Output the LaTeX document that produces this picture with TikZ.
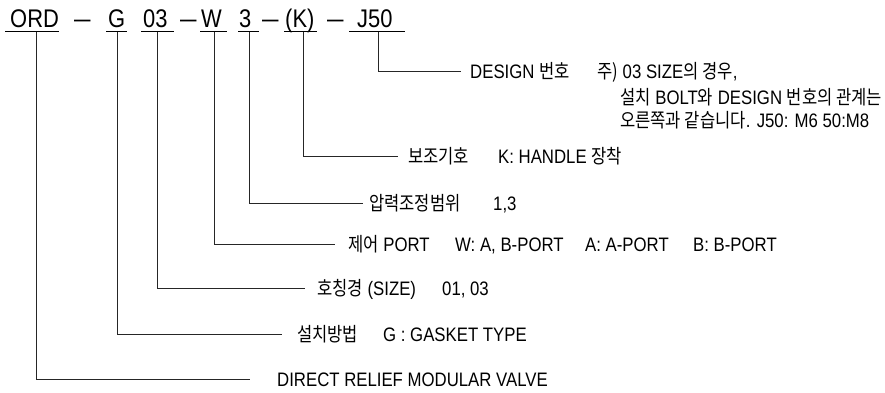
\documentclass[tikz,border=0pt]{standalone}
\usepackage{fontspec}
\setmainfont[FakeStretch=0.86]{Liberation Sans}
\newfontfamily\ko[FakeStretch=0.85]{Noto Sans CJK KR}
\begin{document}
\begin{tikzpicture}[x=1pt,y=-1pt,
  lbl/.style={anchor=base west, inner sep=0pt, font=\fontsize{19.5}{22}\selectfont},
  hd/.style={anchor=base west, inner sep=0pt, font=\fontsize{25.5}{28}\selectfont},
  ln/.style={line width=0.9pt, draw=black!85},
  ul/.style={line width=1pt, draw=black}]
\useasboundingbox (0,0) rectangle (885,392);
% header
\node[hd] (ord) at (10,27.5) {ORD};
\node[hd] (d1) at (74,27.5) {\scalebox{0.75}[1]{—}};
\node[hd] (g) at (108,27.5) {G};
\node[hd] (s03) at (143,27.5) {03};
\node[hd] (d2) at (180,27.5) {\scalebox{0.75}[1]{—}};
\node[hd] (w) at (201,27.5) {W};
\node[hd] (three) at (239,27.5) {3};
\node[hd] (d3) at (262,27.5) {\scalebox{0.75}[1]{—}};
\node[hd] (k) at (285,27.5) {(K)};
\node[hd] (d4) at (327,27.5) {\scalebox{0.75}[1]{—}};
\node[hd] (j50) at (357,27.5) {J50};
% underlines
\draw[ul] (5,31.5) -- (59,31.5);
\draw[ul] (106,31.5) -- (127,31.5);
\draw[ul] (141,31.5) -- (174,31.5);
\draw[ul] (200,31.5) -- (227,31.5);
\draw[ul] (238,31.5) -- (259,31.5);
\draw[ul] (284,31.5) -- (317,31.5);
\draw[ul] (349,31.5) -- (405,31.5);
% anchor points on underlines
\coordinate (uord) at (36,31.5);
\coordinate (ug) at (117,31.5);
\coordinate (u03) at (157,31.5);
\coordinate (uw) at (214,31.5);
\coordinate (u3) at (249,31.5);
\coordinate (uk) at (303,31.5);
\coordinate (uj) at (378,31.5);
% line ends
\coordinate (ej) at (461,71);
\coordinate (ek) at (398,156);
\coordinate (e3) at (363,203);
\coordinate (ew) at (335,244);
\coordinate (e03) at (305,288);
\coordinate (eg) at (282,334);
\coordinate (eord) at (250,379);
% connectors
\draw[ln] (uj) |- (ej);
\draw[ln] (uk) |- (ek);
\draw[ln] (u3) |- (e3);
\draw[ln] (uw) |- (ew);
\draw[ln] (u03) |- (e03);
\draw[ln] (ug) |- (eg);
\draw[ln] (uord) |- (eord);
% labels
\node[lbl] (tj) at (470,78) {DESIGN {\ko 번호}};
\node[lbl] (nj1) at (597,78) {{\ko 주)} 03 SIZE{\ko 의 경우},};
\node[lbl] (nj2) at (620,104) {{\ko 설치} BOLT{\ko 와} DESIGN {\ko 번호의 관계는}};
\node[lbl] (nj3) at (620,127) {{\ko 오른쪽과 같습니다}. J50: M6 50:M8};
\node[lbl] (tk) at (408,163) {\ko 보조기호};
\node[lbl] (vk) at (498,163) {K: HANDLE {\ko 장착}};
\node[lbl] (t3) at (369,210) {\ko 압력조정범위};
\node[lbl] (v3) at (493,210) {1,3};
\node[lbl] (tw) at (348,251) {{\ko 제어} PORT};
\node[lbl] (vw1) at (455,251) {W: A, B-PORT};
\node[lbl] (vw2) at (585,251) {A: A-PORT};
\node[lbl] (vw3) at (693,251) {B: B-PORT};
\node[lbl] (t03) at (317,295) {{\ko 호칭경} (SIZE)};
\node[lbl] (v03) at (442,295) {01, 03};
\node[lbl] (tg) at (297,341) {\ko 설치방법};
\node[lbl] (vg) at (383,341) {G : GASKET TYPE};
\node[lbl] (tord) at (277,386) {DIRECT RELIEF MODULAR VALVE};
\end{tikzpicture}
\end{document}
